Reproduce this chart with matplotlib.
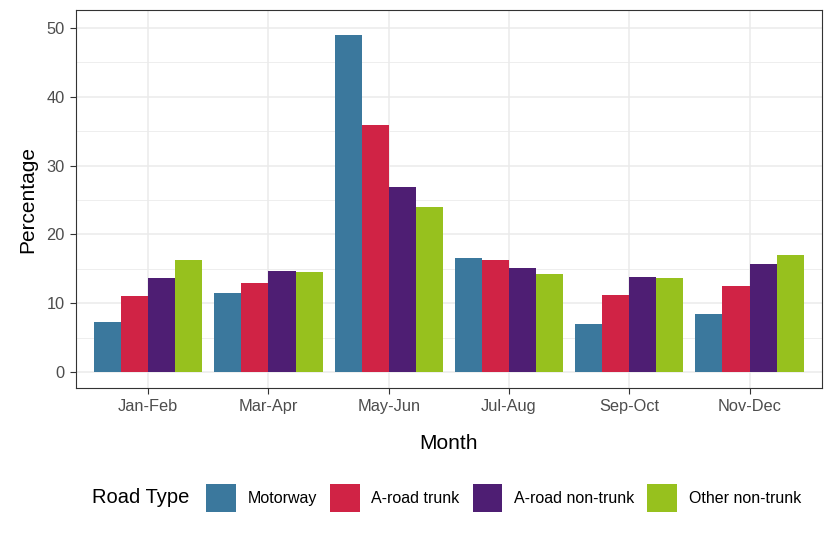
import matplotlib

matplotlib.use("Agg")
import matplotlib.pyplot as plt
import numpy as np
from matplotlib.offsetbox import HPacker
from matplotlib.patches import Patch

MONTHS = ["Jan-Feb", "Mar-Apr", "May-Jun", "Jul-Aug", "Sep-Oct", "Nov-Dec"]
ROAD_TYPES = ["Motorway", "A-road trunk", "A-road non-trunk", "Other non-trunk"]
MOTORWAY = [7.3, 11.5, 49.0, 16.6, 7.0, 8.4]
A_TRUNK = [11.0, 12.9, 35.9, 16.3, 11.2, 12.5]
A_NON_TRUNK = [13.7, 14.7, 26.9, 15.1, 13.8, 15.7]
OTHER = [16.3, 14.5, 24.0, 14.2, 13.7, 17.0]
COLORS = ["#3B789D", "#D02345", "#4E1E73", "#97C11E"]

plt.rcParams["font.family"] = ["Liberation Sans", "DejaVu Sans"]

fig = plt.figure(figsize=(8.3, 5.36), dpi=100)
ax = fig.add_axes([0.0916, 0.276, 0.8984, 0.705])

x = np.arange(len(MONTHS))
w = 0.225
series = [MOTORWAY, A_TRUNK, A_NON_TRUNK, OTHER]
for i, (vals, col) in enumerate(zip(series, COLORS)):
    ax.bar(x + (i - 1.5) * w, vals, w, color=col, zorder=2, linewidth=0)

ax.set_xlim(-0.6, 5.6)
ax.set_ylim(-2.35, 52.6)
ax.set_xticks(x)
ax.set_xticklabels(MONTHS)
ax.set_yticks(np.arange(0, 51, 10))
ax.set_yticks(np.arange(5, 51, 10), minor=True)
ax.grid(True, which="major", color="#EBEBEB", linewidth=1.1, zorder=0)
ax.grid(True, which="minor", axis="y", color="#EBEBEB", linewidth=0.6, zorder=0)
ax.tick_params(axis="both", which="major", colors="#333333", labelcolor="#4D4D4D",
               labelsize=11.8, length=4, width=0.8, pad=4)
ax.tick_params(axis="y", which="minor", length=0)
for s in ax.spines.values():
    s.set_color("#333333")
    s.set_linewidth(0.8)

ax.set_xlabel("Month", fontsize=15, labelpad=14)
ax.set_ylabel("Percentage", fontsize=15, labelpad=7)

handles = [Patch(facecolor=c, edgecolor="none", label=l) for c, l in zip(COLORS, ROAD_TYPES)]
leg = fig.legend(handles=handles, loc="center", bbox_to_anchor=(0.538, 0.071), ncol=4,
                 frameon=False, fontsize=11.5, title="Road Type", title_fontsize=14.5,
                 handlelength=1.85, handleheight=2.3, handletextpad=0.75, columnspacing=0.8)
# put the title to the left of the entries, as ggplot does for bottom legends
title_box = leg._legend_title_box
handle_box = leg._legend_handle_box
leg._legend_box._children = [HPacker(pad=0, sep=12, align="center",
                                     children=[title_box, handle_box])]

fig.savefig("out.png", dpi=100)
